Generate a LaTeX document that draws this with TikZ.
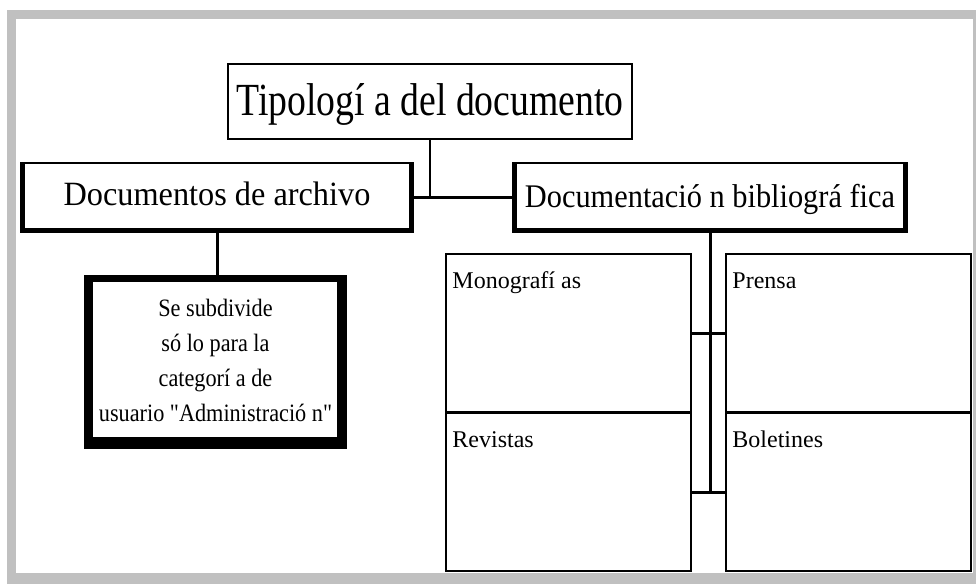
\documentclass[tikz,border=0pt]{standalone}
\usepackage{fontspec}
\setmainfont{Liberation Serif}[Ligatures=TeXOff]
\usepackage{graphicx}
\usetikzlibrary{calc}
\definecolor{framegray}{HTML}{C0C0C0}
\newcommand{\nx}[1]{\scalebox{0.89}[1]{#1}}
\tikzset{
  plainbox/.style={draw=black, line width=1.5pt, fill=white, inner sep=0pt},
  bevelbox/.style n args={4}{fill=black, inner sep=0pt,
    path picture={\fill[white] ([xshift=#1,yshift=-#2]path picture bounding box.north west)
      rectangle ([xshift=-#3,yshift=#4]path picture bounding box.south east);}},
  link/.style={line width=3pt},
  celltext/.style={anchor=base west, inner sep=0pt, font=\fontsize{24}{28}\selectfont},
}
\begin{document}
\begin{tikzpicture}[x=1pt,y=-1pt]
\useasboundingbox (0,0) rectangle (976,583);
% frame
\fill[framegray] (7,10) rectangle (980,587);
\fill[white] (16,19) rectangle (973,573);

% nodes
\node[plainbox, minimum width=404pt, minimum height=75pt, text height=27pt, text depth=0pt]
  (title) at (430,101.5) {\scalebox{0.82}[1]{\fontsize{46}{50}\selectfont Tipologí a del documento}};
\node[bevelbox={5pt}{2pt}{5pt}{5pt}, minimum width=394pt, minimum height=71pt, text height=15pt, text depth=0pt]
  (arch) at (217,197.5) {\scalebox{0.95}[1]{\fontsize{34}{40}\selectfont Documentos de archivo}};
\node[bevelbox={5pt}{2pt}{5pt}{5pt}, minimum width=396pt, minimum height=71pt, text height=19pt, text depth=0pt]
  (bib) at (710,197.5) {\scalebox{0.92}[1]{\fontsize{33}{40}\selectfont Documentació n bibliográ fica}};
\node[bevelbox={9pt}{7pt}{10pt}{12pt}, minimum width=263pt, minimum height=174pt,
  font=\fontsize{25}{35}\selectfont]
  (note) at (215.5,362) {\raisebox{-3pt}{\begin{tabular}{@{}c@{}}\nx{Se subdivide}\\ \nx{só lo para la}\\ \nx{categorí a de}\\ \nx{usuario "Administració n"}\end{tabular}}};

\node[plainbox, minimum width=245pt, minimum height=158pt] (mono) at (568.5,333) {};
\node[plainbox, minimum width=245pt, minimum height=158pt] (prensa) at (848.5,333) {};
\node[plainbox, minimum width=245pt, minimum height=158pt] (rev) at (568.5,492) {};
\node[plainbox, minimum width=245pt, minimum height=158pt] (bol) at (848.5,492) {};
\node[celltext] (monot) at ($(mono.north west)+(7,35)$) {Monografí as};
\node[celltext] (prensat) at ($(prensa.north west)+(7,35)$) {Prensa};
\node[celltext] (revt) at ($(rev.north west)+(7,35)$) {Revistas};
\node[celltext] (bolt) at ($(bol.north west)+(7,35)$) {Boletines};

% connectors
\draw[line width=2pt] (title.south) -- (title.south |- arch.east);
\draw[link] (arch.east) -- (bib.west);
\draw[link] (arch.south) -- (arch.south |- note.north);
\draw[link] (bib.south) -- (bib.south |- rev.east);
\draw[link] (mono.east) -- (prensa.west);
\draw[link] (rev.east) -- (bol.west);
\end{tikzpicture}
\end{document}
